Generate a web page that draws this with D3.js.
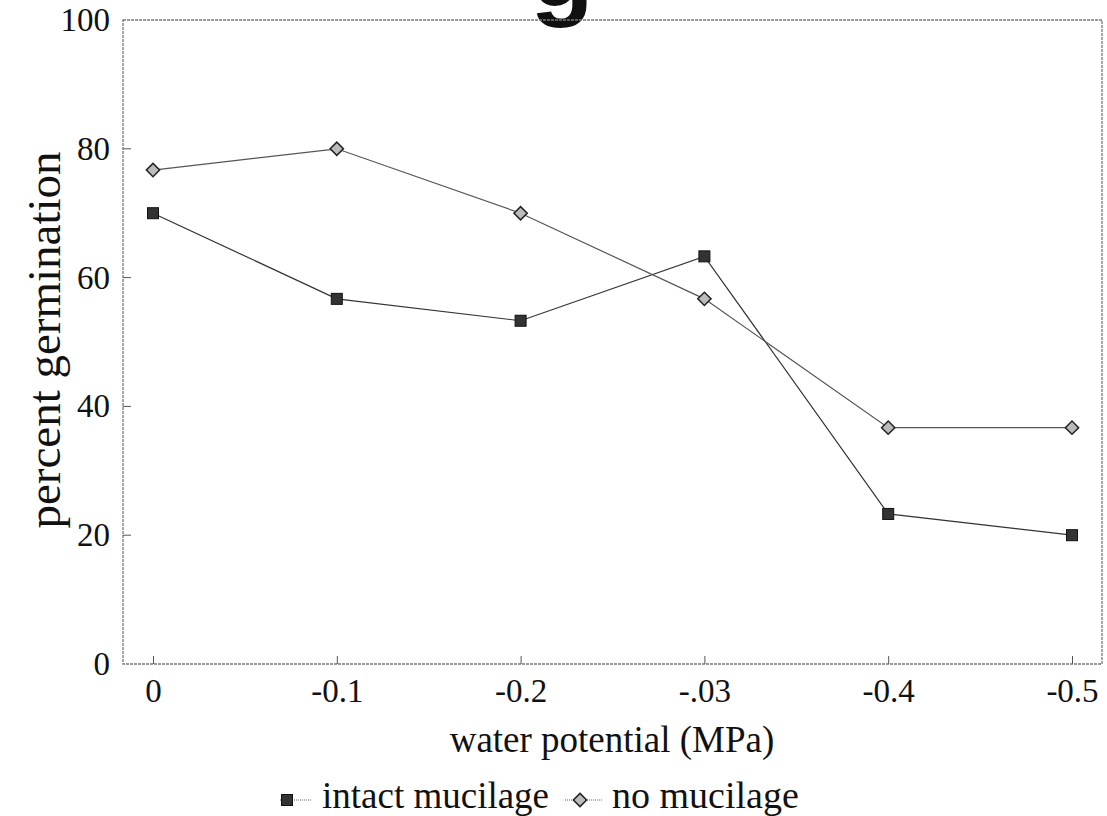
<!DOCTYPE html>
<html>
<head>
<meta charset="utf-8">
<script src="https://cdn.jsdelivr.net/npm/d3@7"></script>
<style>
  html, body { margin: 0; padding: 0; background: #fff; }
  svg { display: block; }
  text { font-family: "Liberation Serif", "Tinos", "DejaVu Serif", "Times New Roman", Times, serif; fill: #111; }
</style>
</head>
<body>
<svg id="chart" width="1107" height="816"></svg>
<script>
// ---- data ----
const categories = ["0", "-0.1", "-0.2", "-.03", "-0.4", "-0.5"];
const intactMucilage = [70, 56.7, 53.3, 63.3, 23.3, 20];
const noMucilage = [76.7, 80, 70, 56.7, 36.7, 36.7];
const yTicks = [0, 20, 40, 60, 80, 100];
const seriesNames = ["intact mucilage", "no mucilage"];

// ---- layout ----
const SERIF = '"Liberation Serif", "Tinos", "DejaVu Serif", "Times New Roman", Times, serif';
const svg = d3.select("#chart");
const frame = { left: 123, top: 20, right: 1102, bottom: 664 };

const x = d3.scalePoint().domain(categories).range([153, 1072]);
const y = d3.scaleLinear().domain([0, 100]).range([frame.bottom, frame.top]);

// partial title glyph cut at the top (as in the source image)
svg.append("text")
  .attr("x", 562).attr("y", 6)
  .attr("text-anchor", "middle")
  .style("font-family", "'Liberation Sans', Arial, sans-serif")
  .style("font-weight", "bold")
  .style("font-size", "104px")
  .text("g");

// frame
svg.append("rect")
  .attr("x", frame.left).attr("y", frame.top)
  .attr("width", frame.right - frame.left)
  .attr("height", frame.bottom - frame.top)
  .attr("fill", "none")
  .attr("stroke", "#777")
  .attr("stroke-width", 1.3)
  .attr("stroke-dasharray", "3,1");

// axes
const xAxis = d3.axisBottom(x).tickSizeInner(-8).tickSizeOuter(0).tickPadding(15);
const gx = svg.append("g").attr("transform", `translate(0,${frame.bottom})`).call(xAxis);
gx.attr("font-family", null);
gx.select(".domain").remove();
gx.selectAll(".tick line").attr("stroke", "#555");
gx.selectAll(".tick text")
  .style("font-family", SERIF)
  .style("font-size", "33px").attr("fill", "#111");

const yAxis = d3.axisLeft(y).tickValues(yTicks).tickSizeInner(-8).tickSizeOuter(0).tickPadding(7);
const gy = svg.append("g").attr("transform", `translate(${frame.left - 6},0)`).call(yAxis);
gy.attr("font-family", null);
gy.select(".domain").remove();
gy.selectAll(".tick line").attr("stroke", "none");
gy.selectAll(".tick text")
  .style("font-family", SERIF)
  .style("font-size", "33px").attr("fill", "#111");
// inward y ticks on the frame
svg.append("g").selectAll("line").data(yTicks.slice(1, -1)).join("line")
  .attr("x1", frame.left).attr("x2", frame.left + 8)
  .attr("y1", d => y(d)).attr("y2", d => y(d))
  .attr("stroke", "#555");

// axis titles
svg.append("text")
  .attr("x", 612).attr("y", 752)
  .attr("text-anchor", "middle")
  .style("font-family", SERIF)
  .style("font-size", "37px")
  .text("water potential (MPa)");

svg.append("text")
  .attr("transform", "translate(60,340) rotate(-90)")
  .attr("text-anchor", "middle")
  .style("font-family", SERIF)
  .style("font-size", "47px")
  .text("percent germination");

// lines
const line = d3.line().x((d, i) => x(categories[i])).y(d => y(d));
svg.append("path").datum(intactMucilage)
  .attr("d", line).attr("fill", "none")
  .attr("stroke", "#333").attr("stroke-width", 1.2);
svg.append("path").datum(noMucilage)
  .attr("d", line).attr("fill", "none")
  .attr("stroke", "#555").attr("stroke-width", 1.2);

// markers
const sq = 11;
function square(g, cx, cy) {
  g.append("rect")
    .attr("x", cx - sq / 2).attr("y", cy - sq / 2)
    .attr("width", sq).attr("height", sq)
    .attr("fill", "#333").attr("stroke", "#111").attr("stroke-width", 1);
}
function diamond(g, cx, cy) {
  g.append("path")
    .attr("d", d3.symbol().type(d3.symbolSquare).size(88)())
    .attr("transform", `translate(${cx},${cy}) rotate(45)`)
    .attr("fill", "#bbb").attr("stroke", "#222").attr("stroke-width", 1.5);
}
const gm = svg.append("g");
intactMucilage.forEach((v, i) => square(gm, x(categories[i]), y(v)));
noMucilage.forEach((v, i) => diamond(gm, x(categories[i]), y(v)));

// legend
const lg = svg.append("g");
lg.append("line").attr("x1", 280).attr("x2", 312).attr("y1", 800).attr("y2", 800)
  .attr("stroke", "#666").attr("stroke-width", 1).attr("stroke-dasharray", "1,1");
square(lg, 287, 800);
lg.append("text").attr("x", 322).attr("y", 808)
  .style("font-family", SERIF).style("font-size", "37px").text(seriesNames[0]);
lg.append("line").attr("x1", 565).attr("x2", 602).attr("y1", 800).attr("y2", 800)
  .attr("stroke", "#666").attr("stroke-width", 1).attr("stroke-dasharray", "1,1");
diamond(lg, 580, 800);
lg.append("text").attr("x", 612).attr("y", 808)
  .style("font-family", SERIF).style("font-size", "38px").text(seriesNames[1]);
</script>
</body>
</html>
